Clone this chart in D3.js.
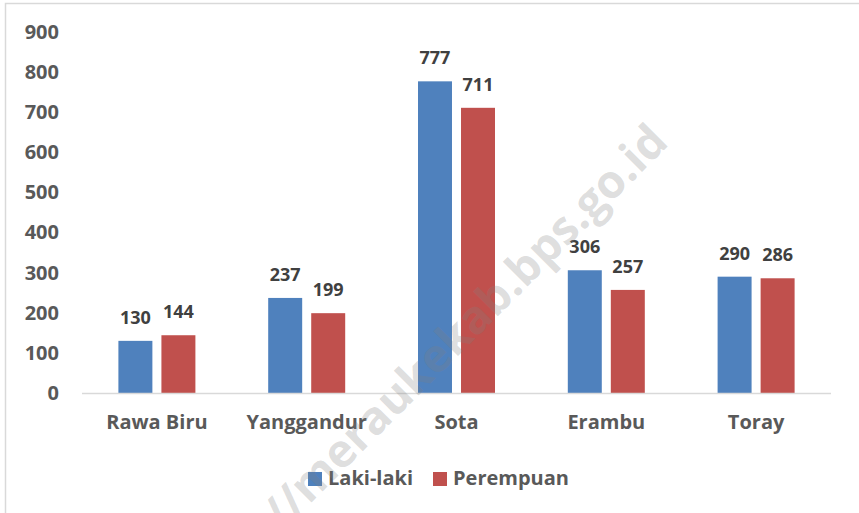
<!DOCTYPE html>
<html>
<head>
<meta charset="utf-8">
<script src="https://cdn.jsdelivr.net/npm/d3@7"></script>
<style>
  body { margin: 0; background: #fff; }
  svg { display: block; font-family: "Open Sans", sans-serif; }
</style>
</head>
<body>
<div id="chart"></div>
<script>
// Penduduk menurut jenis kelamin per kampung
const categories = ['Rawa Biru', 'Yanggandur', 'Sota', 'Erambu', 'Toray'];
const series = ['Laki-laki', 'Perempuan'];
const lakiLaki = [130, 237, 777, 306, 290];
const perempuan = [144, 199, 711, 257, 286];
const yTicks = [0, 100, 200, 300, 400, 500, 600, 700, 800, 900];
const colors = ['#4f81bd', '#c0504d'];

const width = 859, height = 513;
const margin = { top: 32, right: 28, bottom: 120, left: 82 };

const svg = d3.select('#chart')
    .append('svg')
    .attr('width', width)
    .attr('height', height);

// chart area border (only top and left visible)
svg.append('rect')
    .attr('x', 5.5).attr('y', 3.5)
    .attr('width', width + 20).attr('height', height + 20)
    .attr('fill', 'none')
    .attr('stroke', '#d9d9d9')
    .attr('stroke-width', 1.5);

const x0 = d3.scaleBand()
    .domain(categories)
    .range([margin.left, width - margin.right]);

const bw = x0.bandwidth();
const x1 = d3.scaleBand()
    .domain(series)
    .range([(bw - 77) / 2, (bw + 77) / 2])
    .paddingInner(0.21);

const y = d3.scaleLinear()
    .domain([0, 900])
    .range([height - margin.bottom, margin.top]);

// y axis labels
const yAxis = svg.append('g')
    .attr('transform', `translate(${margin.left},0)`)
    .call(d3.axisLeft(y).tickValues(yTicks).tickSize(0).tickPadding(23));
yAxis.select('.domain').remove();
yAxis.selectAll('text')
    .attr('font-family', '"Open Sans", sans-serif')
    .attr('font-size', 20)
    .attr('font-weight', 700)
    .attr('fill', '#595959');

// bars
const rows = categories.map((c, i) => ({ cat: c, values: [lakiLaki[i], perempuan[i]] }));

const groups = svg.append('g')
    .selectAll('g')
    .data(rows)
    .join('g')
    .attr('transform', d => `translate(${x0(d.cat)},0)`);

groups.selectAll('rect')
    .data(d => d.values.map((v, j) => ({ s: series[j], v, j })))
    .join('rect')
    .attr('x', d => x1(d.s))
    .attr('y', d => y(d.v))
    .attr('width', x1.bandwidth())
    .attr('height', d => y(0) - y(d.v))
    .attr('fill', d => colors[d.j]);

groups.selectAll('text.val')
    .data(d => d.values.map((v, j) => ({ s: series[j], v, j })))
    .join('text')
    .attr('class', 'val')
    .attr('x', d => x1(d.s) + x1.bandwidth() / 2)
    .attr('y', d => y(d.v) - 17)
    .attr('text-anchor', 'middle')
    .attr('font-size', 18)
    .attr('font-weight', 700)
    .attr('fill', '#404040')
    .text(d => d.v);

// baseline
svg.append('line')
    .attr('x1', margin.left).attr('x2', width - margin.right)
    .attr('y1', y(0) + 0.5).attr('y2', y(0) + 0.5)
    .attr('stroke', '#d9d9d9')
    .attr('stroke-width', 1.5);

// x axis labels
const xAxis = svg.append('g')
    .attr('transform', `translate(0,${y(0)})`)
    .call(d3.axisBottom(x0).tickSize(0).tickPadding(22));
xAxis.select('.domain').remove();
xAxis.selectAll('text')
    .attr('font-family', '"Open Sans", sans-serif')
    .attr('font-size', 20)
    .attr('font-weight', 700)
    .attr('fill', '#595959');

// legend
const legendX = [308, 433];
const legend = svg.append('g')
    .selectAll('g')
    .data(series)
    .join('g')
    .attr('transform', (d, i) => `translate(${legendX[i]},472)`);

legend.append('rect')
    .attr('width', 14).attr('height', 14)
    .attr('fill', (d, i) => colors[i]);

legend.append('text')
    .attr('x', 20).attr('y', 13)
    .attr('font-size', 20)
    .attr('font-weight', 700)
    .attr('fill', '#595959')
    .text(d => d);

// watermark, translucent on top of everything
svg.append('text')
    .attr('transform', 'translate(670,144) rotate(-45)')
    .attr('text-anchor', 'end')
    .attr('font-size', 46)
    .attr('font-weight', 700)
    .attr('fill', '#808080')
    .attr('fill-opacity', 0.27)
    .text('http://meraukekab.bps.go.id');
</script>
</body>
</html>
